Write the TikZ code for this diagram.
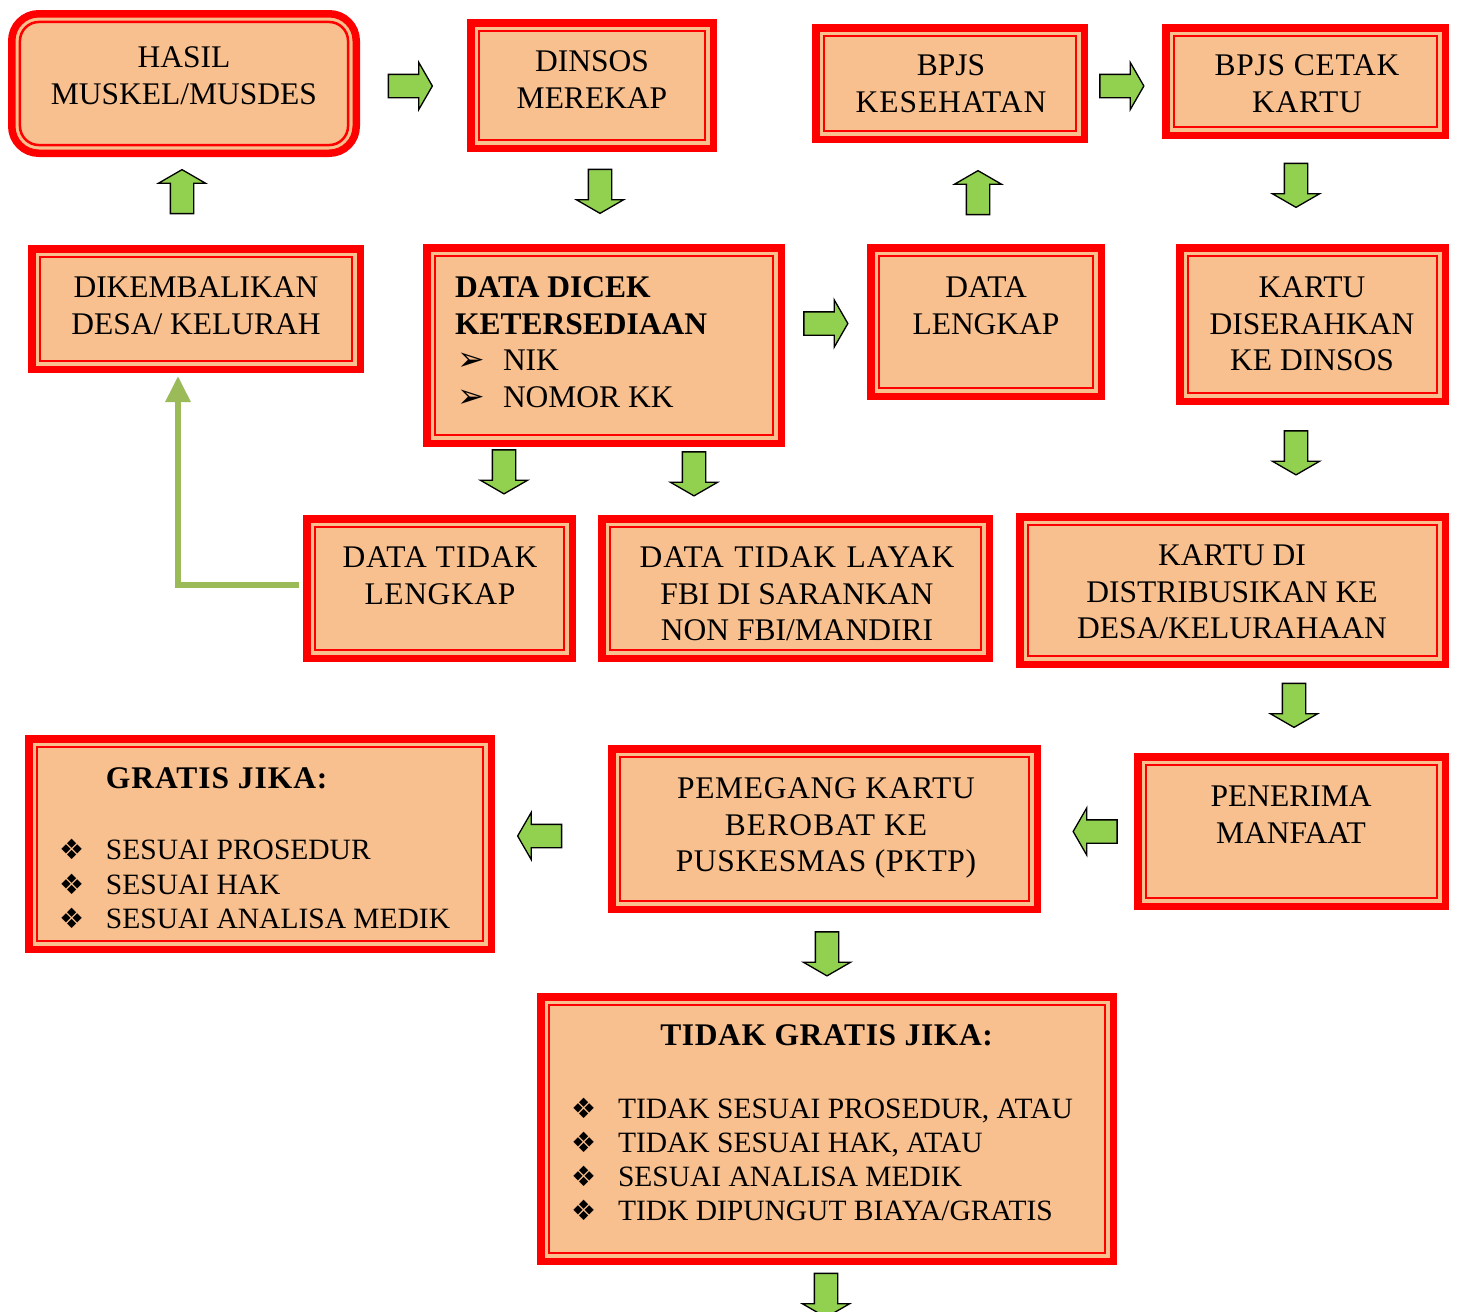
\documentclass[tikz,border=0pt]{standalone}
\usepackage{fontspec}
\setmainfont{Liberation Serif}
\newfontfamily\dv{DejaVu Sans}
\usetikzlibrary{shapes.arrows,arrows.meta}
\definecolor{peach}{HTML}{F8BF8F}
\definecolor{bred}{HTML}{FF0000}
\definecolor{agreen}{HTML}{92D050}
\definecolor{cgreen}{HTML}{9BBB59}
\newcommand\bulA{\dv\fontsize{33}{33}\selectfont}
\newcommand\bulB{\dv\fontsize{28}{28}\selectfont}
\newcommand\lsp[1]{\addfontfeature{LetterSpace=#1}}
\tikzset{
  box/.style={rectangle, draw=bred, line width=7.5pt, fill=peach, inner sep=0pt, outer sep=0pt,
    path picture={\draw[bred, line width=2.5pt, sharp corners]
      ([shift={(8.2pt,8.2pt)}]path picture bounding box.south west) rectangle
      ([shift={(-8.2pt,-8.2pt)}]path picture bounding box.north east);}},
  rbox/.style={rectangle, draw=bred, line width=7.5pt, fill=peach, inner sep=0pt, outer sep=0pt, rounded corners=27pt,
    path picture={\draw[bred, line width=2.5pt, rounded corners=19pt]
      ([shift={(8.2pt,8.2pt)}]path picture bounding box.south west) rectangle
      ([shift={(-8.2pt,-8.2pt)}]path picture bounding box.north east);}},
  txt/.style={font=\fontsize{31.5}{36.5}\selectfont, align=center, inner sep=0pt, outer sep=0pt, anchor=north},
  barrow/.style={single arrow, draw=black, line width=1.3pt, fill=agreen, minimum height=44pt,
    minimum width=46pt, single arrow head extend=12pt, single arrow tip angle=120,
    single arrow head indent=0pt, inner xsep=0pt, inner ysep=11pt, outer sep=0pt},
  conn/.style={draw=cgreen, line width=6pt, -{Triangle[width=24pt,length=26pt]}}
}
% name, x1, y1, x2, y2 (outer edges, pixels)
\newcommand\bx[6][box]{\node[#1, minimum width={#5-#3-7.5}, minimum height={#6-#4-7.5}] (#2) at ({(#3+#5)/2},{(#4+#6)/2}) {};}
\begin{document}
\begin{tikzpicture}[x=1pt,y=-1pt]
\useasboundingbox (0,0) rectangle (1457,1312);
\fill[white] (0,0) rectangle (1457,1312);
% boxes
\bx[rbox]{hasil}{8}{10}{360}{157}
\bx{dinsos}{467}{19}{717}{152}
\bx{bpjsk}{812}{24}{1088}{143}
\bx{cetak}{1162}{24}{1449}{139}
\bx{dik}{28}{245}{364}{373}
\bx{cek}{423}{244}{785}{447}
\bx{lengkap}{867}{244}{1105}{400}
\bx{serah}{1176}{244}{1449}{405}
\bx{dtl}{303}{515}{576}{662}
\bx{layak}{598}{515}{993}{662}
\bx{distr}{1016}{513}{1449}{668}
\bx{gratis}{25}{735}{495}{953}
\bx{pemegang}{608}{745}{1041}{913}
\bx{penerima}{1134}{753}{1449}{910}
\bx{tidak}{537}{993}{1117}{1265}
% texts
\node[txt] (hasilt) at (184,47) {HASIL\\MUSKEL/MUSDES};
\node[txt] (dinsost) at (592,51) {DINSOS\\MEREKAP};
\node[txt] (bpjskt) at (951,55) {BPJS\\{\lsp{3}KESEHATAN}};
\node[txt] (cetakt) at (1307,55) {{\lsp{2.5}BPJS CETAK}\\{\lsp{2.5}KARTU}};
\node[txt] (dikt) at (196,277) {DIKEMBALIKAN\\DESA/ KELURAH};
\node[txt, align=left, anchor=north west] (cekt) at (455,277)
  {\textbf{DATA DICEK}\\ \textbf{KETERSEDIAAN}\\
   \hspace*{2pt}\makebox[46pt][l]{\bulA ➢}NIK\\
   \hspace*{2pt}\makebox[46pt][l]{\bulA ➢}NOMOR KK};
\node[txt] (lengkapt) at (986,277) {DATA\\LENGKAP};
\node[txt] (seraht) at (1312,277) {KARTU\\DISERAHKAN\\KE DINSOS};
\node[txt] (dtlt) at (440,547) {{\lsp{3}DATA TIDAK}\\{\lsp{2}LENGKAP}};
\begin{scope}
  \clip (598,515) rectangle (993,641);
  \node[txt] (layakt) at (797,547) {{\lsp{3}DATA\hspace{10.5pt}TIDAK\hspace{10.5pt}LAYAK}\\FBI DI SARANKAN\\NON FBI/MANDIRI};
\end{scope}
\node[txt] (distrt) at (1232,545) {KARTU DI\\DISTRIBUSIKAN KE\\DESA/KELURAHAAN};
\node[txt, align=left, anchor=north west, font=\fontsize{29.5}{34.5}\selectfont] (gratist) at (59,768)
  {\hspace*{47pt}{\fontsize{31.5}{34.5}\selectfont\lsp{3}\textbf{GRATIS JIKA:}}\\[36.5pt]
   \makebox[47pt][l]{\bulB ❖}SESUAI PROSEDUR\\
   \makebox[47pt][l]{\bulB ❖}SESUAI HAK\\
   \makebox[47pt][l]{\bulB ❖}SESUAI ANALISA MEDIK};
\node[txt] (pemegangt) at (826,778) {{\lsp{2.2}PEMEGANG KARTU}\\{\lsp{3.5}BEROBAT KE}\\{\lsp{2}PUSKESMAS (PKTP)}};
\node[txt] (penerimat) at (1291,786) {PENERIMA\\MANFAAT};
\node[txt] (tidakt) at (827,1025) {\lsp{2}\textbf{TIDAK GRATIS JIKA:}};
\node[txt, align=left, anchor=north west, font=\fontsize{29.5}{34}\selectfont] (tidakl) at (571,1098)
  {\makebox[47pt][l]{\bulB ❖}TIDAK SESUAI PROSEDUR, ATAU\\
   \makebox[47pt][l]{\bulB ❖}TIDAK SESUAI HAK, ATAU\\
   \makebox[47pt][l]{\bulB ❖}SESUAI ANALISA MEDIK\\
   \makebox[47pt][l]{\bulB ❖}TIDK DIPUNGUT BIAYA/GRATIS};
% block arrows
\node[barrow] (a1) at (407,86) {};
\node[barrow, rotate=90] (a2) at (182,195) {};
\node[barrow, rotate=-90] (a3) at (600,188) {};
\node[barrow, rotate=90] (a4) at (978,196) {};
\node[barrow] (a5) at (1118.5,86) {};
\node[barrow, rotate=-90] (a6) at (1296,182) {};
\node[barrow] (a7) at (822.5,323.5) {};
\node[barrow, rotate=-90] (a8) at (504,468.5) {};
\node[barrow, rotate=-90] (a9) at (694,470.5) {};
\node[barrow, rotate=-90] (a10) at (1296,449.5) {};
\node[barrow, rotate=-90] (a11) at (1294,702) {};
\node[barrow, rotate=180] (a12) at (1098.5,831.5) {};
\node[barrow, rotate=180] (a13) at (543,836) {};
\node[barrow, rotate=-90] (a14) at (827,950.5) {};
\node[barrow, rotate=-90] (a15) at (826,1292) {};
% connector
\draw[conn] ([shift={(-7.75pt,3.5pt)}]dtl.west) -| ([shift={(-18pt,-6.75pt)}]dik.south);
\end{tikzpicture}
\end{document}
